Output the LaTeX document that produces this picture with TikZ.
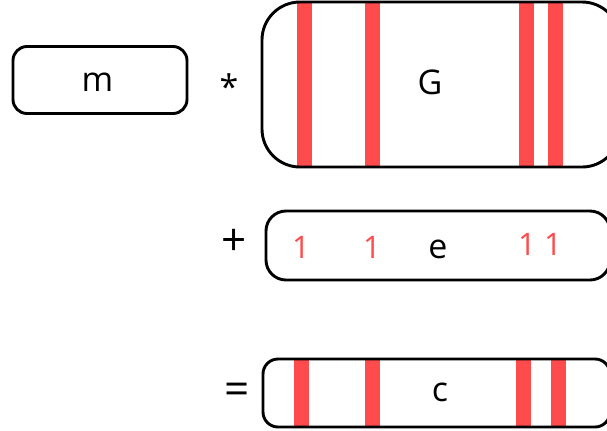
\documentclass[tikz,border=0pt]{standalone}
\usepackage{fontspec}
\setmainfont{Open Sans}
\definecolor{bitred}{RGB}{255,75,75}
\tikzset{
  vecbox/.style={draw=black, line width=2.9bp, fill=none, inner sep=0pt},
  bitbar/.style={fill=bitred, draw=none},
  sym/.style={font=\fontsize{34bp}{40bp}\selectfont, inner sep=0pt, text=black},
  opsym/.style={font=\fontsize{44bp}{50bp}\selectfont, inner sep=0pt, text=black},
  onebit/.style={font=\fontsize{31bp}{36bp}\selectfont, inner sep=0pt, text=bitred},
}
\begin{document}
\begin{tikzpicture}[x=1bp, y=-1bp]
\useasboundingbox (0,0) rectangle (607,430);

% message vector
\node[vecbox, rounded corners=14bp, minimum width=174bp, minimum height=67bp] (m) at (100,80) {};
\node[sym] (mt) at (97.5,82) {m};
\node[sym] (times) at (229,87) {*};

% generator matrix with highlighted columns
\foreach \x in {297,365,519,548}
  \fill[bitbar] (\x,3) rectangle (\x+15,166);
\node[vecbox, rounded corners=38bp, minimum width=358bp, minimum height=165bp] (G) at (441,84.5) {};
\node[sym] (Gt) at (430,82.5) {G};

% error vector
\node[opsym] (plus) at (234,242) {+};
\node[vecbox, rounded corners=20bp, minimum width=344bp, minimum height=69bp] (e) at (438,245.5) {};
\node[sym] (et) at (438,249) {e};
\node[onebit] (e1) at (301,247) {1};
\node[onebit] (e2) at (372,247) {1};
\node[onebit] (e3) at (527,244) {1};
\node[onebit] (e4) at (553,244) {1};

% codeword
\node[opsym] (eq) at (237,394) {=};
\foreach \x in {294,365,516,551}
  \fill[bitbar] (\x,360) rectangle (\x+15,426);
\node[vecbox, rounded corners=15bp, minimum width=347bp, minimum height=68bp] (c) at (436.5,393) {};
\node[sym] (ct) at (440,392) {c};
\end{tikzpicture}
\end{document}
